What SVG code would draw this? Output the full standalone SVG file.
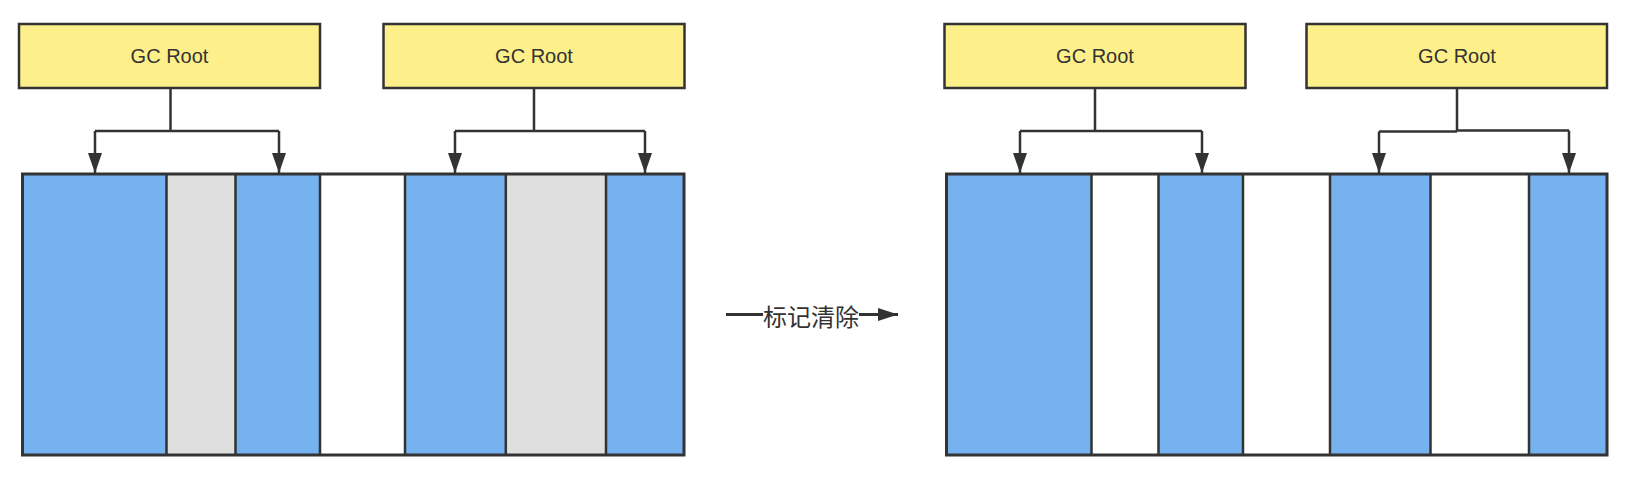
<svg xmlns="http://www.w3.org/2000/svg" width="1628" height="482" viewBox="0 0 1628 482">
<defs>
<style>
.root{fill:#fdf08a;stroke:#333;stroke-width:2.5}
.lbl{font-family:"Liberation Sans",Arial,sans-serif;font-size:20px;fill:#333;text-anchor:middle}
.b{fill:#77b2f0}
.g{fill:#dfdfdf}
.w{fill:#ffffff}
.div{stroke:#333;stroke-width:2.5;fill:none}
.frame{fill:none;stroke:#333;stroke-width:3}
.con{fill:none;stroke:#333;stroke-width:2.5}
.mid{fill:none;stroke:#333;stroke-width:3}
</style>
<marker id="ah" markerUnits="userSpaceOnUse" markerWidth="20" markerHeight="14" viewBox="0 0 20 14" refX="20" refY="7" orient="auto">
<path d="M0,0 L20,7 L0,14 z" fill="#333"/>
</marker>
<marker id="ah2" markerUnits="userSpaceOnUse" markerWidth="20" markerHeight="13" viewBox="0 0 20 13" refX="20" refY="6.5" orient="auto">
<path d="M0,0 L20,6.5 L0,13 z" fill="#333"/>
</marker>
</defs>
<rect width="1628" height="482" fill="#ffffff"/>

<g id="heap-before">
<rect class="b" x="22.5" y="174" width="144" height="281"/>
<rect class="g" x="166.5" y="174" width="69" height="281"/>
<rect class="b" x="235.5" y="174" width="84.5" height="281"/>
<rect class="w" x="320" y="174" width="85" height="281"/>
<rect class="b" x="405" y="174" width="100.8" height="281"/>
<rect class="g" x="505.8" y="174" width="100.2" height="281"/>
<rect class="b" x="606" y="174" width="78" height="281"/>
<path class="div" d="M166.5 174V455M235.5 174V455M320 174V455M405 174V455M505.8 174V455M606 174V455"/>
<rect class="frame" x="22.5" y="174" width="661.5" height="281"/>
</g>

<g id="heap-after">
<rect class="b" x="946.5" y="174" width="145" height="281"/>
<rect class="w" x="1091.5" y="174" width="67" height="281"/>
<rect class="b" x="1158.5" y="174" width="84.5" height="281"/>
<rect class="w" x="1243" y="174" width="87" height="281"/>
<rect class="b" x="1330" y="174" width="100.5" height="281"/>
<rect class="w" x="1430.5" y="174" width="98.5" height="281"/>
<rect class="b" x="1529" y="174" width="78" height="281"/>
<path class="div" d="M1091.5 174V455M1158.5 174V455M1243 174V455M1330 174V455M1430.5 174V455M1529 174V455"/>
<rect class="frame" x="946.5" y="174" width="660.5" height="281"/>
</g>

<g id="root1"><rect class="root" x="19" y="24" width="301" height="64"/><text class="lbl" x="169.5" y="62.5">GC Root</text></g>
<g id="root2"><rect class="root" x="383.5" y="24" width="301" height="64"/><text class="lbl" x="534" y="62.5">GC Root</text></g>
<g id="root3"><rect class="root" x="944.5" y="24" width="301" height="64"/><text class="lbl" x="1095" y="62.5">GC Root</text></g>
<g id="root4"><rect class="root" x="1306.5" y="24" width="300.5" height="64"/><text class="lbl" x="1457" y="62.5">GC Root</text></g>

<g id="connectors">
<path class="con" d="M170.5 88V131M95 131H279"/>
<path class="con" d="M95 131V173" marker-end="url(#ah)"/>
<path class="con" d="M279 131V173" marker-end="url(#ah)"/>
<path class="con" d="M534 88V131M455 131H645"/>
<path class="con" d="M455 131V173" marker-end="url(#ah)"/>
<path class="con" d="M645 131V173" marker-end="url(#ah)"/>
<path class="con" d="M1095 88V131M1020 131H1202"/>
<path class="con" d="M1020 131V173" marker-end="url(#ah)"/>
<path class="con" d="M1202 131V173" marker-end="url(#ah)"/>
<path class="con" d="M1457 88V131.5M1379 131.5H1457M1457 130.5H1569"/>
<path class="con" d="M1379 131.5V173" marker-end="url(#ah)"/>
<path class="con" d="M1569 130.5V173" marker-end="url(#ah)"/>
<path class="mid" d="M726 314.5H763"/>
<path class="mid" d="M859 314.5H898" marker-end="url(#ah2)"/>
<text x="811" y="315" font-family="'Noto Sans CJK SC',sans-serif" font-size="24" fill="#333" text-anchor="middle" dominant-baseline="central">标记清除</text>
</g>
</svg>
